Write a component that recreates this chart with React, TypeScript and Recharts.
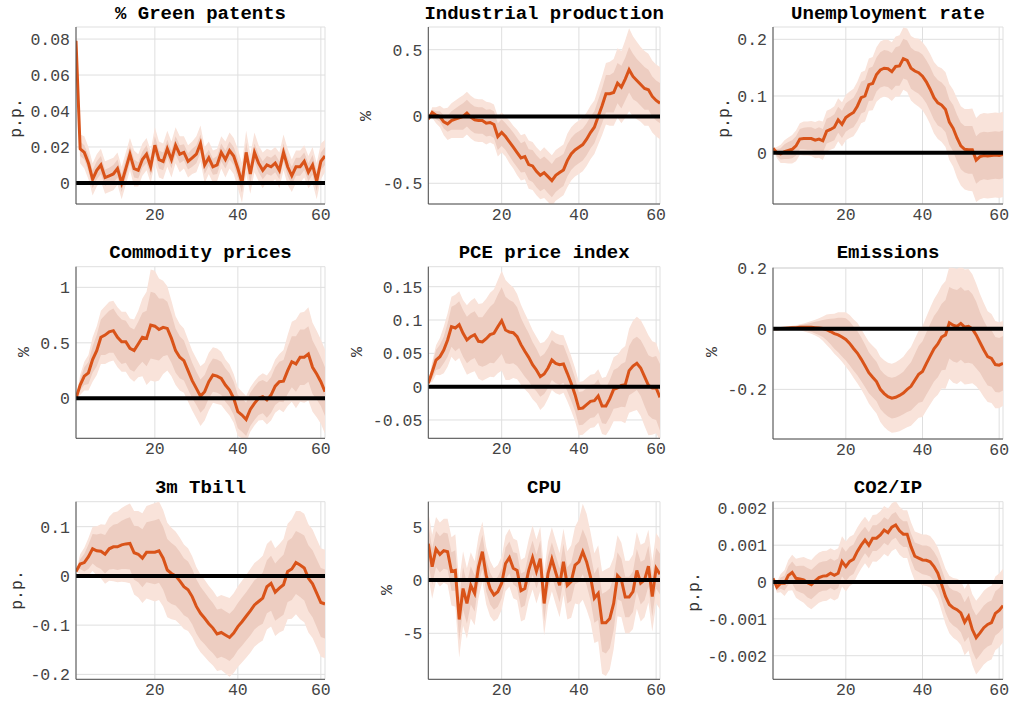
import React from 'react'
import { ComposedChart, Area, Line, XAxis, YAxis, CartesianGrid, ReferenceLine } from 'recharts'

// impulse horizon (months after the shock)
const HORIZON = Array.from({ length: 61 }, (_, i) => i + 1)
const X_TICKS = [20, 40, 60]

// median responses + half-widths of the 68% (inner) and 90% (outer) bands
const greenMed = [
  0.079, 0.019, 0.017, 0.011, 0.002, 0.007, 0.010, 0.003, 0.004, 0.005,
  0.008, 0.000, 0.008, 0.016, 0.008, 0.007, 0.013, 0.016, 0.009, 0.021,
  0.013, 0.012, 0.019, 0.013, 0.021, 0.016, 0.017, 0.012, 0.014, 0.016,
  0.022, 0.010, 0.014, 0.009, 0.010, 0.017, 0.013, 0.018, 0.015, 0.008,
  0.000, 0.017, 0.005, 0.017, 0.011, 0.007, 0.010, 0.009, 0.011, 0.007,
  0.017, 0.009, 0.004, 0.009, 0.009, 0.012, 0.006, 0.010, 0.001, 0.012,
  0.015,
]
const greenIn = [
  0.002, 0.004, 0.004, 0.0045, 0.005, 0.005, 0.005, 0.0045, 0.0045, 0.005,
  0.005, 0.005, 0.005, 0.005, 0.005, 0.0045, 0.0045, 0.005, 0.005, 0.005,
  0.005, 0.005, 0.005, 0.005, 0.005, 0.005, 0.0045, 0.0045, 0.005, 0.005,
  0.005, 0.005, 0.0045, 0.0045, 0.005, 0.005, 0.005, 0.005, 0.005, 0.0055,
  0.0055, 0.0055, 0.0055, 0.005, 0.005, 0.005, 0.005, 0.005, 0.005, 0.005,
  0.005, 0.005, 0.005, 0.005, 0.005, 0.005, 0.005, 0.0055, 0.0055, 0.005,
  0.005,
]
const greenOut = [
  0.004, 0.008, 0.009, 0.009, 0.009, 0.009, 0.009, 0.009, 0.009, 0.009,
  0.009, 0.009, 0.009, 0.009, 0.010, 0.009, 0.009, 0.009, 0.009, 0.010,
  0.010, 0.010, 0.010, 0.010, 0.010, 0.010, 0.009, 0.009, 0.009, 0.010,
  0.010, 0.010, 0.009, 0.009, 0.009, 0.009, 0.010, 0.010, 0.010, 0.011,
  0.011, 0.012, 0.011, 0.011, 0.010, 0.010, 0.009, 0.009, 0.009, 0.010,
  0.010, 0.010, 0.009, 0.009, 0.009, 0.009, 0.009, 0.010, 0.010, 0.010,
  0.009,
]

const ipMed = [
  -0.02, 0.03, 0.01, 0.0, -0.04, -0.055, -0.03, -0.02, -0.01, 0.0,
  0.025, -0.005, -0.025, -0.03, -0.03, -0.05, -0.045, -0.06, -0.15, -0.12,
  -0.15, -0.19, -0.23, -0.27, -0.31, -0.3, -0.36, -0.37, -0.41, -0.44,
  -0.42, -0.45, -0.48, -0.44, -0.42, -0.4, -0.33, -0.28, -0.25, -0.23,
  -0.21, -0.17, -0.12, -0.08, 0.0, 0.08, 0.17, 0.17, 0.18, 0.25,
  0.22, 0.28, 0.35, 0.3, 0.27, 0.24, 0.21, 0.2, 0.15, 0.12,
  0.1,
]
const ipIn = [
  0, 0.02, 0.03, 0.04, 0.05, 0.06, 0.07, 0.08, 0.09, 0.1,
  0.1, 0.1, 0.1, 0.1, 0.1, 0.1, 0.1, 0.1, 0.1, 0.1,
  0.1, 0.105, 0.11, 0.11, 0.11, 0.115, 0.115, 0.12, 0.12, 0.12,
  0.12, 0.125, 0.125, 0.125, 0.12, 0.12, 0.12, 0.12, 0.12, 0.12,
  0.12, 0.12, 0.12, 0.12, 0.125, 0.13, 0.14, 0.14, 0.15, 0.15,
  0.16, 0.16, 0.17, 0.17, 0.16, 0.16, 0.16, 0.15, 0.15, 0.15,
  0.15,
]
const ipOut = [
  0, 0.04, 0.06, 0.08, 0.1, 0.12, 0.13, 0.14, 0.15, 0.16,
  0.16, 0.16, 0.16, 0.16, 0.16, 0.16, 0.15, 0.15, 0.15, 0.15,
  0.15, 0.16, 0.16, 0.17, 0.17, 0.17, 0.18, 0.18, 0.18, 0.18,
  0.19, 0.19, 0.19, 0.19, 0.19, 0.19, 0.2, 0.2, 0.2, 0.2,
  0.2, 0.2, 0.2, 0.2, 0.21, 0.22, 0.23, 0.24, 0.25, 0.26,
  0.27, 0.29, 0.31, 0.3, 0.29, 0.28, 0.28, 0.27, 0.27, 0.27,
  0.27,
]

const urMed = [
  0.008, 0.0, -0.002, 0.002, 0.004, 0.006, 0.012, 0.024, 0.025, 0.025,
  0.025, 0.022, 0.024, 0.021, 0.038, 0.041, 0.045, 0.058, 0.05, 0.062,
  0.067, 0.071, 0.082, 0.097, 0.1, 0.12, 0.122, 0.138, 0.146, 0.149,
  0.148, 0.143, 0.152, 0.153, 0.166, 0.163, 0.149, 0.144, 0.141, 0.135,
  0.125, 0.112, 0.097, 0.088, 0.084, 0.076, 0.054, 0.043, 0.026, 0.012,
  0.006, 0.005, 0.005, -0.013, -0.007, -0.005, -0.006, -0.005, -0.004, -0.005,
  -0.003,
]
const urIn = [
  0, 0.006, 0.01, 0.013, 0.015, 0.016, 0.017, 0.018, 0.019, 0.02,
  0.02, 0.02, 0.021, 0.021, 0.022, 0.022, 0.023, 0.023, 0.024, 0.025,
  0.025, 0.026, 0.027, 0.028, 0.028, 0.029, 0.03, 0.03, 0.031, 0.032,
  0.032, 0.033, 0.034, 0.035, 0.035, 0.035, 0.036, 0.036, 0.037, 0.038,
  0.038, 0.039, 0.039, 0.04, 0.04, 0.04, 0.04, 0.041, 0.041, 0.041,
  0.041, 0.042, 0.042, 0.042, 0.042, 0.042, 0.042, 0.042, 0.042, 0.042,
  0.042,
]
const urOut = [
  0, 0.01, 0.016, 0.02, 0.023, 0.025, 0.027, 0.028, 0.03, 0.03,
  0.031, 0.032, 0.033, 0.034, 0.036, 0.036, 0.037, 0.038, 0.039, 0.04,
  0.041, 0.042, 0.043, 0.045, 0.045, 0.046, 0.047, 0.048, 0.05, 0.05,
  0.051, 0.052, 0.053, 0.054, 0.055, 0.056, 0.057, 0.058, 0.06, 0.06,
  0.061, 0.062, 0.063, 0.064, 0.065, 0.066, 0.067, 0.068, 0.07, 0.07,
  0.071, 0.072, 0.073, 0.074, 0.075, 0.075, 0.075, 0.075, 0.075, 0.075,
  0.075,
]

const cpMed = [
  0.0, 0.12, 0.2, 0.23, 0.35, 0.43, 0.55, 0.57, 0.6, 0.61,
  0.55, 0.51, 0.51, 0.45, 0.43, 0.49, 0.55, 0.54, 0.66, 0.65,
  0.62, 0.64, 0.63, 0.54, 0.43, 0.37, 0.34, 0.25, 0.16, 0.09,
  0.02, 0.06, 0.15, 0.21, 0.2, 0.18, 0.12, 0.075, 0.0, -0.12,
  -0.15, -0.19, -0.1, -0.045, 0.0, 0.015, -0.015, 0.03, 0.11, 0.15,
  0.155, 0.25, 0.33, 0.31, 0.37, 0.37, 0.4, 0.28, 0.22, 0.15,
  0.06,
]
const cpIn = [
  0, 0.05, 0.08, 0.1, 0.12, 0.14, 0.16, 0.18, 0.19, 0.2,
  0.2, 0.2, 0.19, 0.19, 0.19, 0.2, 0.22, 0.25, 0.3, 0.3,
  0.28, 0.26, 0.24, 0.22, 0.2, 0.19, 0.18, 0.17, 0.16, 0.15,
  0.15, 0.15, 0.15, 0.15, 0.15, 0.15, 0.15, 0.15, 0.15, 0.15,
  0.15, 0.15, 0.15, 0.15, 0.15, 0.15, 0.16, 0.16, 0.17, 0.18,
  0.19, 0.21, 0.23, 0.25, 0.25, 0.25, 0.25, 0.24, 0.23, 0.22,
  0.22,
]
const cpOut = [
  0, 0.09, 0.13, 0.16, 0.2, 0.22, 0.24, 0.26, 0.27, 0.27,
  0.27, 0.27, 0.27, 0.27, 0.28, 0.3, 0.35, 0.42, 0.5, 0.5,
  0.46, 0.42, 0.38, 0.34, 0.31, 0.3, 0.29, 0.28, 0.27, 0.27,
  0.27, 0.26, 0.26, 0.25, 0.25, 0.24, 0.23, 0.23, 0.22, 0.22,
  0.21, 0.21, 0.2, 0.2, 0.2, 0.21, 0.22, 0.23, 0.24, 0.25,
  0.28, 0.32, 0.36, 0.4, 0.4, 0.41, 0.42, 0.4, 0.39, 0.38,
  0.38,
]

const pceMed = [
  0.005, 0.022, 0.04, 0.045, 0.055, 0.07, 0.09, 0.088, 0.093, 0.08,
  0.07, 0.075, 0.078, 0.068, 0.067, 0.072, 0.078, 0.08, 0.09, 0.099,
  0.085, 0.082, 0.081, 0.075, 0.063, 0.053, 0.044, 0.033, 0.025, 0.015,
  0.019, 0.028, 0.04, 0.035, 0.033, 0.034, 0.02, 0.005, -0.012, -0.033,
  -0.032, -0.027, -0.022, -0.021, -0.014, -0.029, -0.029, -0.018, -0.004, -0.002,
  0.002, 0.003, 0.024, 0.031, 0.035, 0.028, 0.015, 0.002, -0.002, -0.002,
  -0.016,
]
const pceIn = [
  0, 0.01, 0.015, 0.018, 0.02, 0.025, 0.03, 0.035, 0.035, 0.035,
  0.035, 0.035, 0.035, 0.036, 0.037, 0.04, 0.042, 0.045, 0.048, 0.05,
  0.05, 0.048, 0.046, 0.044, 0.04, 0.038, 0.036, 0.034, 0.032, 0.03,
  0.03, 0.03, 0.03, 0.03, 0.03, 0.028, 0.027, 0.026, 0.025, 0.025,
  0.025, 0.025, 0.025, 0.025, 0.025, 0.026, 0.027, 0.028, 0.029, 0.03,
  0.032, 0.034, 0.037, 0.04, 0.04, 0.042, 0.044, 0.045, 0.046, 0.048,
  0.05,
]
const pceOut = [
  0, 0.015, 0.022, 0.028, 0.035, 0.04, 0.045, 0.05, 0.05, 0.05,
  0.052, 0.054, 0.055, 0.056, 0.058, 0.06, 0.063, 0.066, 0.07, 0.075,
  0.075, 0.072, 0.068, 0.064, 0.06, 0.057, 0.054, 0.052, 0.05, 0.05,
  0.048, 0.046, 0.045, 0.045, 0.045, 0.043, 0.042, 0.041, 0.04, 0.04,
  0.04, 0.04, 0.04, 0.04, 0.04, 0.042, 0.044, 0.046, 0.048, 0.05,
  0.054, 0.058, 0.063, 0.068, 0.07, 0.072, 0.074, 0.075, 0.07, 0.068,
  0.065,
]

const emMed = [
  0.0, 0.0005, 0.001, 0.002, 0.003, 0.004, 0.004, 0.005, 0.005, 0.005,
  0.005, 0.004, 0.003, 0.001, -0.003, -0.009, -0.016, -0.02, -0.027, -0.035,
  -0.048, -0.065, -0.08, -0.1, -0.122, -0.145, -0.16, -0.174, -0.2, -0.214,
  -0.224, -0.229, -0.226, -0.22, -0.212, -0.2, -0.19, -0.17, -0.15, -0.141,
  -0.115, -0.09, -0.066, -0.05, -0.027, -0.02, 0.02, 0.012, 0.008, 0.018,
  0.006, 0.008, 0.0, -0.02, -0.045, -0.07, -0.092, -0.098, -0.118, -0.12,
  -0.114,
]
const emIn = [
  0, 0.0005, 0.001, 0.002, 0.003, 0.004, 0.005, 0.007, 0.009, 0.012,
  0.015, 0.019, 0.023, 0.028, 0.035, 0.042, 0.05, 0.057, 0.064, 0.07,
  0.072, 0.073, 0.073, 0.072, 0.07, 0.068, 0.066, 0.065, 0.065, 0.065,
  0.066, 0.067, 0.068, 0.069, 0.07, 0.075, 0.08, 0.087, 0.094, 0.1,
  0.103, 0.106, 0.108, 0.11, 0.11, 0.115, 0.118, 0.12, 0.12, 0.12,
  0.12, 0.12, 0.115, 0.11, 0.1, 0.097, 0.095, 0.093, 0.091, 0.09,
  0.09,
]
const emOut = [
  0, 0.001, 0.002, 0.003, 0.005, 0.006, 0.008, 0.01, 0.013, 0.017,
  0.021, 0.026, 0.032, 0.04, 0.05, 0.058, 0.066, 0.075, 0.082, 0.09,
  0.094, 0.097, 0.1, 0.1, 0.1, 0.102, 0.104, 0.106, 0.108, 0.11,
  0.112, 0.114, 0.116, 0.118, 0.12, 0.125, 0.13, 0.137, 0.144, 0.15,
  0.155, 0.16, 0.164, 0.168, 0.17, 0.178, 0.185, 0.19, 0.19, 0.19,
  0.19, 0.19, 0.18, 0.17, 0.16, 0.155, 0.15, 0.147, 0.144, 0.142,
  0.14,
]

const tbMed = [
  0.009, 0.024, 0.027, 0.039, 0.055, 0.051, 0.05, 0.044, 0.055, 0.059,
  0.059, 0.063, 0.065, 0.066, 0.047, 0.044, 0.036, 0.048, 0.048, 0.048,
  0.051, 0.036, 0.012, 0.005, 0.0, -0.01, -0.022, -0.028, -0.042, -0.062,
  -0.076, -0.086, -0.097, -0.106, -0.118, -0.115, -0.12, -0.125, -0.116, -0.103,
  -0.093, -0.082, -0.071, -0.059, -0.052, -0.045, -0.022, -0.015, -0.033, -0.025,
  -0.018, 0.009, 0.014, 0.027, 0.022, 0.016, -0.005, -0.016, -0.035, -0.054,
  -0.057,
]
const tbIn = [
  0, 0.01, 0.018, 0.025, 0.03, 0.033, 0.036, 0.039, 0.042, 0.045,
  0.047, 0.049, 0.051, 0.053, 0.055, 0.057, 0.059, 0.061, 0.063, 0.065,
  0.065, 0.064, 0.063, 0.062, 0.06, 0.059, 0.058, 0.057, 0.056, 0.055,
  0.054, 0.053, 0.052, 0.051, 0.05, 0.049, 0.048, 0.048, 0.048, 0.048,
  0.049, 0.049, 0.05, 0.05, 0.05, 0.052, 0.054, 0.056, 0.058, 0.06,
  0.061, 0.062, 0.063, 0.064, 0.065, 0.066, 0.067, 0.068, 0.069, 0.07,
  0.07,
]
const tbOut = [
  0, 0.02, 0.03, 0.038, 0.045, 0.05, 0.055, 0.06, 0.065, 0.07,
  0.072, 0.075, 0.078, 0.081, 0.085, 0.088, 0.091, 0.094, 0.097, 0.1,
  0.1, 0.098, 0.096, 0.093, 0.09, 0.088, 0.086, 0.084, 0.082, 0.08,
  0.079, 0.078, 0.077, 0.076, 0.075, 0.076, 0.078, 0.08, 0.081, 0.082,
  0.083, 0.084, 0.085, 0.085, 0.085, 0.086, 0.087, 0.088, 0.089, 0.09,
  0.093, 0.097, 0.101, 0.105, 0.11, 0.11, 0.11, 0.11, 0.11, 0.11,
  0.11,
]

const cpuMed = [
  3.4, 1.25, 2.9, 2.4, 2.75, 2.65, 0.8, 0.9, -3.7, -0.8,
  -2.2, -0.5, -1.25, 1.2, 2.65, 0.4, -0.8, -1.4, -1.1, -0.3,
  1.55, 2.1, 1.1, 0.9, -1.0, -0.8, 0.9, 2.1, 0.8, 2.0,
  -2.2, 0.6, 1.95, 0.7, -0.5, 1.7, -0.5, -0.15, 1.4, 1.7,
  2.65, 1.7, 0.3, -1.7, -1.25, -4.0, -4.0, -3.6, -2.2, 0.4,
  0.0, -1.6, -1.6, -1.1, 0.9, -0.3, 0.0, 1.3, -1.55, 1.1,
  0.55,
]
const cpuIn = [
  1.8, 1.7, 1.7, 1.7, 1.7, 1.7, 1.8, 1.9, 2.0, 2.0,
  1.9, 1.8, 1.7, 1.6, 1.6, 1.5, 1.5, 1.4, 1.4, 1.4,
  1.5, 1.5, 1.5, 1.6, 1.6, 1.6, 1.6, 1.6, 1.6, 1.7,
  1.7, 1.6, 1.6, 1.6, 1.6, 1.7, 1.7, 1.8, 1.8, 1.9,
  2.1, 2.2, 2.2, 2.3, 2.5, 2.7, 2.9, 2.8, 2.5, 2.2,
  2.0, 1.9, 1.9, 1.9, 2.0, 2.0, 1.9, 1.9, 1.9, 1.9,
  1.9,
]
const cpuOut = [
  3.0, 3.0, 3.0, 3.0, 3.0, 3.1, 3.2, 3.4, 3.6, 3.5,
  3.3, 3.1, 3.0, 2.9, 2.8, 2.7, 2.6, 2.5, 2.5, 2.5,
  2.6, 2.7, 2.8, 2.8, 2.9, 2.9, 2.9, 3.0, 3.0, 3.0,
  3.0, 3.0, 3.0, 3.0, 3.0, 3.1, 3.2, 3.4, 3.6, 4.0,
  4.5, 4.5, 4.2, 4.2, 4.5, 4.8, 5.0, 4.8, 4.3, 3.8,
  3.5, 3.4, 3.4, 3.5, 3.6, 3.6, 3.5, 3.4, 3.3, 3.3,
  3.3,
]

const co2Med = [
  0.0001, -0.00014, -0.00003, -0.00003, 0.00018, 0.00026, 0.0001, 0.00008, 0.00006, -0.00002,
  -0.00007, 0.00003, 0.00012, 0.00016, 0.00017, 0.00024, 0.00018, 0.00024, 0.00056, 0.00042,
  0.00056, 0.00062, 0.00083, 0.001, 0.00114, 0.001, 0.00119, 0.00119, 0.00128, 0.00141,
  0.00134, 0.00149, 0.00155, 0.00139, 0.0013, 0.0013, 0.00096, 0.0007, 0.00065, 0.0006,
  0.00059, 0.00055, 0.00042, 0.00024, -0.00007, -0.00039, -0.00061, -0.0007, -0.00075, -0.00084,
  -0.00109, -0.00093, -0.00129, -0.00151, -0.00138, -0.00124, -0.00115, -0.0011, -0.00085, -0.00077,
  -0.00064,
]
const co2In = [
  0, 0.0001, 0.00015, 0.0002, 0.00025, 0.0003, 0.00033, 0.00036, 0.00038, 0.0004,
  0.0004, 0.0004, 0.0004, 0.0004, 0.0004, 0.0004, 0.0004, 0.0004, 0.0004, 0.0004,
  0.0004, 0.0004, 0.0004, 0.00038, 0.00036, 0.00035, 0.00035, 0.00035, 0.00035, 0.00035,
  0.00035, 0.00035, 0.00035, 0.00035, 0.00035, 0.00035, 0.00036, 0.00037, 0.00038, 0.00039,
  0.0004, 0.0004, 0.0004, 0.0004, 0.00042, 0.00044, 0.00046, 0.00048, 0.0005, 0.00052,
  0.00054, 0.00056, 0.00058, 0.0006, 0.0006, 0.0006, 0.0006, 0.0006, 0.0006, 0.0006,
  0.0006,
]
const co2Out = [
  0, 0.00015, 0.00025, 0.00035, 0.00042, 0.00048, 0.00053, 0.00058, 0.00062, 0.00065,
  0.00067, 0.00068, 0.00068, 0.00068, 0.00068, 0.00068, 0.00068, 0.00068, 0.00068, 0.00068,
  0.00067, 0.00066, 0.00065, 0.00064, 0.00063, 0.00063, 0.00063, 0.00064, 0.00064, 0.00065,
  0.00065, 0.00065, 0.00065, 0.00065, 0.00065, 0.00065, 0.00066, 0.00067, 0.00068, 0.00069,
  0.0007, 0.0007, 0.0007, 0.0007, 0.00072, 0.00075, 0.00078, 0.00081, 0.00084, 0.00087,
  0.0009, 0.00093, 0.00096, 0.001, 0.001, 0.001, 0.001, 0.001, 0.001, 0.001,
  0.001,
]

const ORANGE = '#D95319'
const BAND_OUT = '#F9E3DA'
const BAND_IN = '#EDCDC1'
const MONO = '"Liberation Mono", "Courier New", monospace'

// cell = svg box; plot = [left, top, right, bottom] in page px; lab = unit label centre
const PANELS = [
  { title: '% Green patents', unit: 'p.p.', med: greenMed, wi: greenIn, wo: greenOut,
    domain: [-0.0117, 0.0867], ticks: [0, 0.02, 0.04, 0.06, 0.08],
    cell: [0, 0, 340, 235], plot: [76, 27, 325, 204], lab: [17, 118], titleY: 14 },
  { title: 'Industrial production', unit: '%', med: ipMed, wi: ipIn, wo: ipOut,
    domain: [-0.655, 0.67], ticks: [-0.5, 0, 0.5],
    cell: [340, 0, 330, 235], plot: [428.3, 27, 660, 204], lab: [367, 116], titleY: 14 },
  { title: 'Unemployment rate', unit: 'p.p.', med: urMed, wi: urIn, wo: urOut,
    domain: [-0.0905, 0.2217], ticks: [0, 0.1, 0.2],
    cell: [670, 0, 339, 235], plot: [773, 27, 1003, 204], lab: [725, 118], titleY: 14 },
  { title: 'Commodity prices', unit: '%', med: cpMed, wi: cpIn, wo: cpOut,
    domain: [-0.36, 1.186], ticks: [0, 0.5, 1],
    cell: [0, 235, 340, 235], plot: [76, 266.7, 325, 438.3], lab: [25, 352], titleY: 253 },
  { title: 'PCE price index', unit: '%', med: pceMed, wi: pceIn, wo: pceOut,
    domain: [-0.0775, 0.18], ticks: [-0.05, 0, 0.05, 0.1, 0.15],
    cell: [340, 235, 330, 235], plot: [428.3, 266.7, 660, 438.3], lab: [358, 352], titleY: 253 },
  { title: 'Emissions', unit: '%', med: emMed, wi: emIn, wo: emOut,
    domain: [-0.364, 0.202], ticks: [-0.2, 0, 0.2],
    cell: [670, 235, 339, 235], plot: [773, 267.7, 1003, 439], lab: [713, 352], titleY: 253 },
  { title: '3m Tbill', unit: 'p.p.', med: tbMed, wi: tbIn, wo: tbOut,
    domain: [-0.21, 0.1507], ticks: [-0.2, -0.1, 0, 0.1],
    cell: [0, 470, 340, 235], plot: [76, 501.7, 325, 679.3], lab: [18, 590], titleY: 488 },
  { title: 'CPU', unit: '%', med: cpuMed, wi: cpuIn, wo: cpuOut,
    domain: [-9.31, 7.34], ticks: [-5, 0, 5],
    cell: [340, 470, 330, 235], plot: [428.3, 501.7, 660, 679.3], lab: [388, 590], titleY: 488 },
  { title: 'CO2/IP', unit: 'p.p.', med: co2Med, wi: co2In, wo: co2Out,
    domain: [-0.00264, 0.00218], ticks: [-0.002, -0.001, 0, 0.001, 0.002],
    cell: [670, 470, 339, 235], plot: [773, 501.7, 1003, 679.3], lab: [695, 592], titleY: 488 },
]

const Y_W = 50
const X_H = 25
const tickStyle = { fill: '#444', fontSize: 16.5, fontFamily: MONO }

function Panel({ p }: { p: typeof PANELS[number] }) {
  const [cx, cy, cw, ch] = p.cell
  const [L, T, R, B] = p.plot
  const rows = HORIZON.map((h, i) => ({
    h,
    med: p.med[i],
    inner: [p.med[i] - p.wi[i], p.med[i] + p.wi[i]],
    outer: [p.med[i] - p.wo[i], p.med[i] + p.wo[i]],
  }))
  const margin = {
    left: L - cx - Y_W,
    top: T - cy,
    right: cx + cw - R,
    bottom: cy + ch - B - X_H,
  }
  return (
    <div style={{ position: 'absolute', left: cx, top: cy }}>
      <ComposedChart width={cw} height={ch} data={rows} margin={margin}>
        <CartesianGrid stroke="#dfdfdf" strokeWidth={1} />
        <XAxis dataKey="h" type="number" domain={[1, 61]} ticks={X_TICKS} height={X_H}
          axisLine={{ stroke: '#4d4d4d' }} tickLine={false} tickSize={0} tickMargin={4}
          tick={tickStyle} allowDataOverflow />
        <YAxis type="number" domain={p.domain} ticks={p.ticks} width={Y_W}
          axisLine={{ stroke: '#4d4d4d' }} tickLine={false} tickSize={0} tickMargin={6}
          tick={tickStyle} allowDataOverflow interval={0} />
        <Area dataKey="outer" type="linear" stroke="none" fill={BAND_OUT} fillOpacity={1}
          isAnimationActive={false} />
        <Area dataKey="inner" type="linear" stroke="none" fill={BAND_IN} fillOpacity={1}
          isAnimationActive={false} />
        <Line dataKey="med" type="linear" stroke={ORANGE} strokeWidth={3} dot={false}
          isAnimationActive={false} />
        <ReferenceLine y={0} stroke="#000" strokeWidth={4} />
      </ComposedChart>
    </div>
  )
}

export default function App() {
  return (
    <div style={{ position: 'absolute', left: 0, top: 0, width: 1009, height: 705, background: '#fff', fontFamily: MONO }}>
      {PANELS.map(p => (
        <Panel key={p.title} p={p} />
      ))}
      {PANELS.map(p => (
        <div key={p.title + '-t'} style={{
          position: 'absolute', left: (p.plot[0] + p.plot[2]) / 2, top: p.titleY,
          transform: 'translate(-50%, -50%)', whiteSpace: 'nowrap',
          fontWeight: 'bold', fontSize: 19, color: '#000', lineHeight: 1,
        }}>{p.title}</div>
      ))}
      {PANELS.map(p => (
        <div key={p.title + '-u'} style={{
          position: 'absolute', left: p.lab[0], top: p.lab[1],
          transform: 'translate(-50%, -50%) rotate(-90deg)', whiteSpace: 'nowrap',
          fontSize: 16.5, color: '#333', lineHeight: 1,
        }}>{p.unit}</div>
      ))}
    </div>
  )
}
